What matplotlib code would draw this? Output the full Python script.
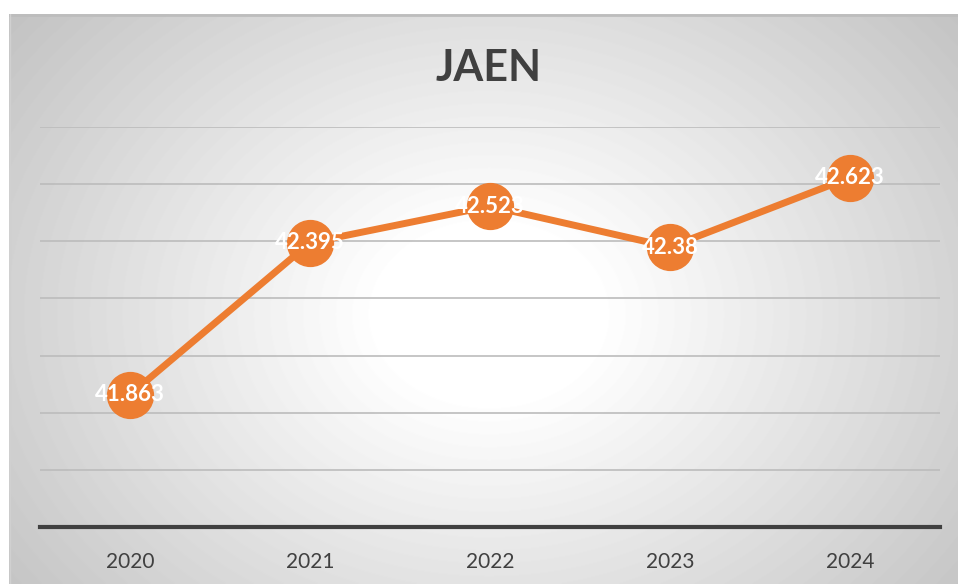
import matplotlib
matplotlib.use("Agg")
import matplotlib.pyplot as plt
import numpy as np

# -- Data --
years = ["2020", "2021", "2022", "2023", "2024"]
values = [41.863, 42.395, 42.523, 42.38, 42.623]
labels = ["41.863", "42.395", "42.523", "42.38", "42.623"]

W, H = 958, 584
fig = plt.figure(figsize=(W / 100, H / 100), dpi=100)
font = ["Lato", "DejaVu Sans"]

# -- Card background with radial gradient --
bg = fig.add_axes([9 / W, 0, (W - 9) / W, (H - 14) / H])
bg.set_axis_off()
yy, xx = np.mgrid[0:570, 0:949]
cx, cy = 480, 300
r = np.sqrt(((xx - cx) / 560) ** 2 + ((yy - cy) / 440) ** 2)
shade = np.clip(1.0 - 0.24 * np.clip(r - 0.2, 0, None) / 0.9, 0.76, 1.0)
bg.imshow(shade, cmap="gray", vmin=0, vmax=1, aspect="auto", extent=(0, 1, 0, 1))
bg.set_xlim(0, 1)
bg.set_ylim(0, 1)
bg.plot([0, 1], [0.998, 0.998], color="#bdbdbd", lw=2, transform=bg.transAxes)
bg.plot([0.0015, 0.0015], [0, 1], color="#d0d0d0", lw=1, transform=bg.transAxes)

# -- Chart --
ax = fig.add_axes([40 / W, 57 / H, 900 / W, 400 / H])
ax.patch.set_alpha(0)
x = np.arange(len(years))
ax.plot(x, values, color="#ED7D31", lw=5, marker="o", markersize=33,
        solid_capstyle="round", zorder=3)
for xi, v, lab in zip(x, values, labels):
    ax.text(xi, v, lab, ha="center", va="center", color="white",
            fontsize=16, fontweight="bold", family=font, zorder=4)

ax.set_xlim(-0.5, 4.5)
ax.set_ylim(41.4, 42.8)
ax.set_yticks(np.arange(41.6, 42.81, 0.2))
ax.yaxis.grid(True, color="#bcbcbc", lw=1.2)
ax.set_axisbelow(True)
ax.tick_params(axis="y", left=False, labelleft=False)
ax.set_xticks(x)
ax.set_xticklabels(years, fontsize=15, color="#404040", family=font)
ax.tick_params(axis="x", length=0, pad=18)
for s in ["top", "left", "right"]:
    ax.spines[s].set_visible(False)
ax.spines["bottom"].set_color("#404040")
ax.spines["bottom"].set_linewidth(3)

fig.text(489 / W, 1 - 68 / H, "JAEN", ha="center", va="center", fontsize=31,
         fontweight="bold", color="#404040", family=font)

fig.savefig("out.png", dpi=100, facecolor="white")
